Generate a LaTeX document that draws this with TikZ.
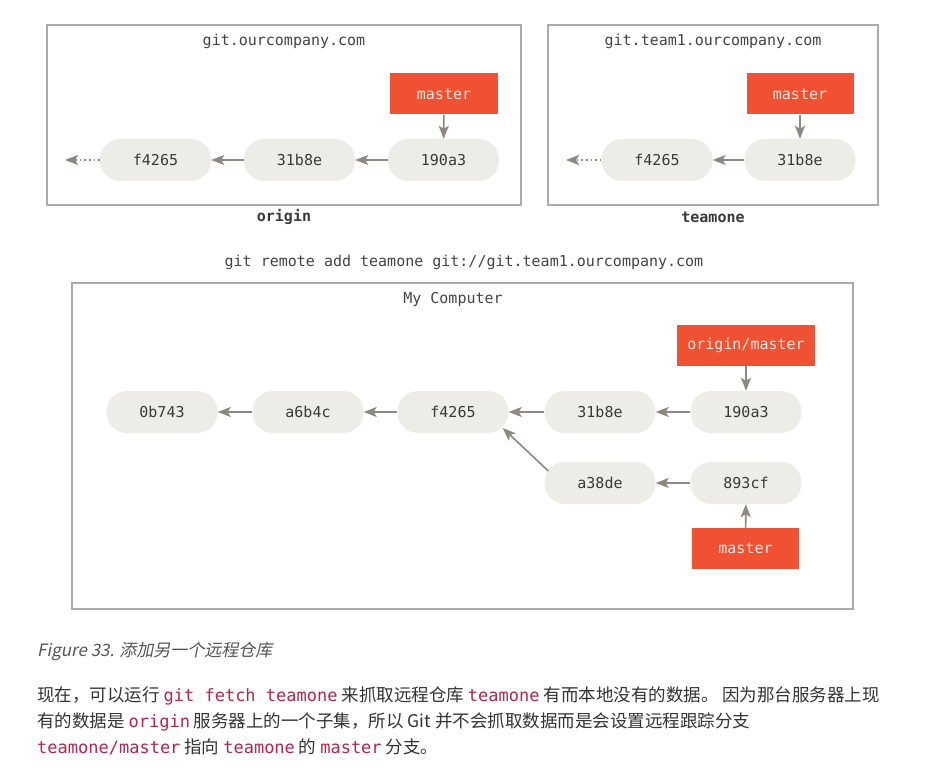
\documentclass[tikz,border=0pt]{standalone}
\usepackage{fontspec}
\usetikzlibrary{arrows.meta,calc}
\newfontfamily\dmono{DejaVu Sans Mono}
\newfontfamily\dmonob{DejaVu Sans Mono Bold}
\newfontfamily\cjk{Noto Sans CJK SC}
\newfontfamily\cjkit{Noto Sans CJK SC}[FakeSlant=0.2]
\definecolor{gitred}{HTML}{F05133}
\definecolor{branchtext}{HTML}{F7E9E1}
\definecolor{commitfill}{HTML}{EDECE6}
\definecolor{committext}{HTML}{3A3A3A}
\definecolor{arrowgray}{HTML}{8D8880}
\definecolor{framegray}{HTML}{ABABAB}
\definecolor{titletext}{HTML}{444444}
\definecolor{codered}{HTML}{B32650}
\definecolor{bodytext}{HTML}{333333}
\definecolor{captext}{HTML}{555555}
\newcommand{\pcode}[1]{{\dmono\fontsize{17}{20}\selectfont\color{codered}#1}}
\tikzset{
  commit/.style={fill=commitfill, rounded corners=20.5pt, minimum width=111pt, minimum height=42pt, inner sep=0pt, text=committext, font=\dmono\fontsize{15}{18}\selectfont},
  branch/.style={fill=gitred, minimum height=41pt, inner sep=0pt, text=branchtext, font=\dmono\fontsize{15}{18}\selectfont},
  frameline/.style={draw=framegray, line width=1.5pt},
  boxtitle/.style={text=titletext, inner sep=0pt, font=\dmono\fontsize{15}{18}\selectfont},
  reponame/.style={text=committext, inner sep=0pt, font=\dmonob\fontsize{15}{18}\selectfont},
  arr/.style={draw=arrowgray, line width=1.6pt, -{Stealth[length=13pt,width=10pt,inset=3pt]}},
  dotarr/.style={arr, dash pattern=on 1.6pt off 3pt},
  bodyline/.style={anchor=base west, inner sep=0pt, text=bodytext, font=\cjk\fontsize{17.5}{20}\selectfont}
}
\begin{document}
\begin{tikzpicture}[x=1pt,y=-1pt]
\useasboundingbox[fill=white] (0,0) rectangle (927,770);

% origin
\draw[frameline] (47,25) rectangle (521,205);
\node[boxtitle] (t1) at (284,41) {git.ourcompany.com};
\node[branch, minimum width=108pt] (om) at (444,94) {master};
\node[commit] (o1) at (155.5,160) {f4265};
\node[commit] (o2) at (299.5,160) {31b8e};
\node[commit] (o3) at (443.5,160) {190a3};
\coordinate (oend) at (65,160);
\node[reponame] (n1) at (284,217) {origin};
\draw[arr] (o3) -- (o2);
\draw[arr] (o2) -- (o1);
\draw[dotarr] (o1) -- (oend);
\draw[arr] (om) -- (o3);

% teamone
\draw[frameline] (548,25) rectangle (878,205);
\node[boxtitle] (t2) at (713,41) {git.team1.ourcompany.com};
\node[branch, minimum width=107pt] (tm) at (800,94) {master};
\node[commit] (p1) at (657,160) {f4265};
\node[commit] (p2) at (800,160) {31b8e};
\coordinate (pend) at (566,160);
\node[reponame] (n2) at (713,217) {teamone};
\draw[arr] (p2) -- (p1);
\draw[dotarr] (p1) -- (pend);
\draw[arr] (tm) -- (p2);

% command
\node[boxtitle] (cmd) at (464,262) {git remote add teamone git://git.team1.ourcompany.com};

% my computer
\draw[frameline] (72,283) rectangle (853,609);
\node[boxtitle] (t3) at (453,299) {My Computer};
\node[commit] (c1) at (162,412) {0b743};
\node[commit] (c2) at (308,412) {a6b4c};
\node[commit] (c3) at (453,412) {f4265};
\node[commit] (c4) at (600,412) {31b8e};
\node[commit] (c5) at (746,412) {190a3};
\node[commit] (c6) at (600,483) {a38de};
\node[commit] (c7) at (746,483) {893cf};
\node[branch, minimum width=138pt] (com) at (746,345.5) {origin/master};
\node[branch, minimum width=107pt] (lm) at (745.5,548.5) {master};
\draw[arr] (c5) -- (c4);
\draw[arr] (c4) -- (c3);
\draw[arr] (c3) -- (c2);
\draw[arr] (c2) -- (c1);
\draw[arr] (c7) -- (c6);
\draw[arr] ($(c6.west)+(4,-12)$) -- ($(c3.east)+(-6,16)$);
\draw[arr] (com) -- (c5);
\draw[arr] (lm) -- (c7);

% caption
\node[anchor=base west, inner sep=0pt, text=captext, font=\cjkit\fontsize{17}{20}\selectfont] (cap) at (37,656) {Figure 33. 添加另一个远程仓库};

% paragraph
\node[bodyline] (l1) at (37,701) {现在，可以运行 \pcode{git fetch teamone} 来抓取远程仓库 \pcode{teamone} 有而本地没有的数据。 因为那台服务器上现};
\node[bodyline] (l2) at (37,727) {有的数据是 \pcode{origin} 服务器上的一个子集，所以 Git 并不会抓取数据而是会设置远程跟踪分支};
\node[bodyline] (l3) at (37,753) {\pcode{teamone/master} 指向 \pcode{teamone} 的 \pcode{master} 分支。};
\end{tikzpicture}
\end{document}
